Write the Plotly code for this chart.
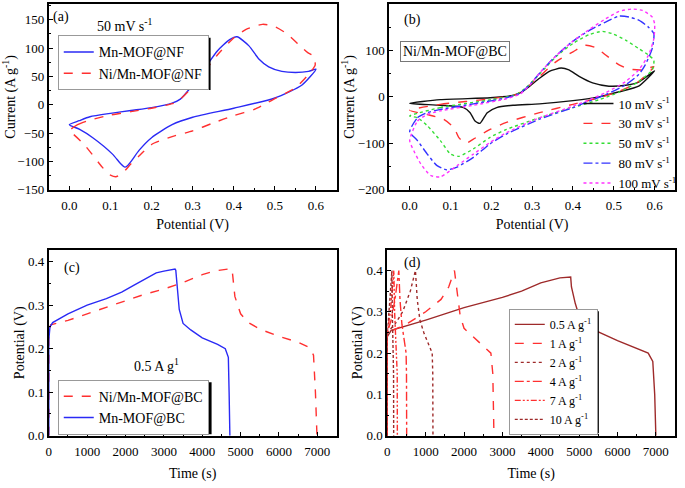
import plotly.graph_objects as go

# ---------------- Panel (a): CV at 50 mV/s ----------------
a_mn_v = [0.0, 0.024, 0.05, 0.1, 0.15, 0.2, 0.25, 0.27, 0.3, 0.33, 0.36, 0.39, 0.408, 0.437, 0.461, 0.485, 0.517, 0.55, 0.582, 0.6,
          0.566, 0.5, 0.4, 0.3, 0.25, 0.2, 0.17, 0.152, 0.142, 0.135, 0.125, 0.105, 0.057, 0.024, 0.0]
a_mn_i = [-35, -28, -21, -15, -10, -5, 3, 10, 35, 65, 95, 115, 120, 104, 81, 67, 59, 57, 59, 63,
          35, 12, -6, -22, -35, -58, -80, -98, -107, -110, -104, -87, -58, -43, -35]
a_ni_v = [0.0, 0.02, 0.05, 0.1, 0.15, 0.2, 0.25, 0.27, 0.3, 0.33, 0.36, 0.4, 0.43, 0.47, 0.5, 0.53, 0.56, 0.58, 0.594,
          0.598, 0.58, 0.55, 0.5, 0.48, 0.45, 0.4, 0.35, 0.3, 0.25, 0.2, 0.17, 0.15, 0.13, 0.113, 0.095, 0.08, 0.036, 0.01, 0.0]
a_ni_i = [-46, -35, -27, -18, -12, -6, 2, 10, 32, 60, 88, 118, 133, 142, 138, 125, 105, 92, 86,
          70, 52, 30, 11, 3, -8, -19, -32, -46, -56, -70, -90, -104, -120, -127, -122, -110, -70, -52, -46]

# ---------------- Panel (b): Ni/Mn-MOF@BC CV at various scan rates ----------------
b10_v = [0.0, 0.075, 0.197, 0.253, 0.274, 0.294, 0.318, 0.342, 0.371, 0.39, 0.415, 0.448, 0.488, 0.529, 0.561, 0.6,
         0.561, 0.513, 0.464, 0.4, 0.318, 0.253, 0.213, 0.19, 0.172, 0.16, 0.148, 0.132, 0.075, 0.0]
b10_i = [-14, -6, -2, 3, 10, 23, 40, 55, 62, 58, 44, 30, 23, 25, 32, 56,
         23, 11, 0, -8, -15, -18, -23, -34, -57, -52, -34, -23, -18, -14]
b30_v = [0.0, 0.075, 0.2, 0.26, 0.285, 0.318, 0.359, 0.4, 0.43, 0.456, 0.48, 0.513, 0.537, 0.57, 0.598,
         0.561, 0.513, 0.464, 0.4, 0.318, 0.237, 0.197, 0.156, 0.136, 0.12, 0.108, 0.083, 0.043, 0.0]
b30_i = [-29, -16, -4, 5, 19, 44, 76, 97, 111, 106, 90, 69, 60, 58, 65,
         33, 12, -2, -16, -34, -55, -70, -91, -100, -87, -66, -48, -38, -29]
b50_v = [0.0, 0.075, 0.2, 0.26, 0.285, 0.318, 0.359, 0.4, 0.44, 0.472, 0.496, 0.529, 0.561, 0.585, 0.598,
         0.594, 0.561, 0.513, 0.464, 0.4, 0.318, 0.237, 0.197, 0.156, 0.12, 0.1, 0.075, 0.043, 0.019, 0.0]
b50_i = [-41, -23, -6, 5, 20, 49, 87, 115, 134, 141, 136, 122, 104, 90, 79,
         58, 33, 10, -6, -23, -45, -70, -87, -112, -128, -123, -94, -62, -45, -41]
b80_v = [0.0, 0.019, 0.043, 0.075, 0.156, 0.237, 0.27, 0.294, 0.318, 0.359, 0.4, 0.44, 0.48, 0.513, 0.537, 0.561, 0.585, 0.598,
         0.594, 0.577, 0.561, 0.529, 0.48, 0.44, 0.4, 0.318, 0.237, 0.197, 0.156, 0.116, 0.091, 0.067, 0.043, 0.019, 0.0]
b80_i = [-75, -45, -34, -27, -15, -2, 8, 26, 51, 89, 120, 143, 161, 174, 172, 165, 150, 136,
         104, 69, 48, 26, 5, -9, -23, -48, -80, -101, -130, -151, -157, -148, -123, -94, -75]
b100_v = [0.0, 0.019, 0.043, 0.075, 0.156, 0.237, 0.27, 0.294, 0.318, 0.359, 0.4, 0.44, 0.48, 0.513, 0.545, 0.57, 0.594, 0.6,
          0.598, 0.585, 0.561, 0.529, 0.48, 0.44, 0.4, 0.318, 0.237, 0.197, 0.156, 0.116, 0.075, 0.051, 0.027, 0.01, 0.0]
b100_i = [-94, -52, -38, -30, -18, -4, 6, 25, 51, 89, 120, 145, 168, 184, 189, 186, 172, 157,
          125, 90, 58, 33, 9, -6, -20, -45, -77, -98, -123, -148, -172, -169, -144, -116, -94]

# ---------------- Panel (c): GCD at 0.5 A/g ----------------
c_ni_t = [0, 0, 50, 500, 1000, 1500, 2000, 2500, 3000, 3500, 4000, 4300, 4750, 4780, 4850, 5000, 5200, 5500, 6000, 6500, 6800, 6900, 6950, 6990]
c_ni_v = [0, 0.24, 0.255, 0.265, 0.28, 0.295, 0.31, 0.325, 0.337, 0.352, 0.37, 0.378, 0.384, 0.38, 0.32, 0.28, 0.26, 0.245, 0.228, 0.215, 0.202, 0.185, 0.1, 0.0]
c_mn_t = [0, 0, 30, 100, 500, 1000, 1500, 1900, 2200, 2500, 2800, 3000, 3290, 3310, 3350, 3400, 3500, 3700, 4000, 4400, 4600, 4680, 4700, 4720]
c_mn_v = [0, 0.22, 0.25, 0.26, 0.28, 0.30, 0.315, 0.33, 0.345, 0.36, 0.374, 0.378, 0.383, 0.38, 0.33, 0.29, 0.258, 0.243, 0.225, 0.21, 0.2, 0.18, 0.1, 0.0]

# ---------------- Panel (d): GCD of Ni/Mn-MOF@BC at various current densities ----------------
d05_t = [0, 0, 100, 1000, 2000, 3000, 3500, 4000, 4500, 4780, 4800, 4900, 5000, 5300, 6000, 6800, 6920, 6970, 7000]
d05_v = [0, 0.24, 0.255, 0.28, 0.31, 0.335, 0.35, 0.37, 0.382, 0.384, 0.36, 0.32, 0.29, 0.26, 0.23, 0.2, 0.18, 0.1, 0.0]
d1_t = [0, 0, 500, 1000, 1400, 1600, 1750, 1800, 1900, 2000, 2300, 2600, 2700, 2750, 2780]
d1_v = [0, 0.25, 0.27, 0.30, 0.33, 0.36, 0.40, 0.36, 0.29, 0.26, 0.235, 0.21, 0.2, 0.15, 0.0]
d2_t = [0, 0, 200, 400, 600, 733, 780, 850, 950, 1100, 1170, 1185, 1190]
d2_v = [0, 0.25, 0.27, 0.30, 0.35, 0.40, 0.33, 0.28, 0.25, 0.215, 0.2, 0.15, 0.0]
d4_t = [0, 0, 100, 200, 300, 330, 380, 450, 490, 500, 505]
d4_v = [0, 0.25, 0.28, 0.33, 0.40, 0.33, 0.27, 0.22, 0.2, 0.15, 0.0]
d7_t = [0, 0, 80, 170, 190, 230, 250, 258, 262]
d7_v = [0, 0.25, 0.30, 0.40, 0.30, 0.22, 0.2, 0.15, 0.0]
d10_t = [0, 0, 60, 120, 130, 150, 160, 163, 166]
d10_v = [0, 0.25, 0.32, 0.40, 0.30, 0.22, 0.2, 0.15, 0.0]

FONT = "Liberation Serif"
RED = "#FF3030"
BLUE = "#2A2AF5"
DARKRED = "#9E2A2A"

fig = go.Figure()

def add(x, y, name, color, dash, ax, legend, shape="spline", width=1.4):
    fig.add_trace(go.Scatter(x=x, y=y, mode="lines", name=name,
                             line=dict(color=color, dash=dash, width=width, shape=shape, smoothing=0.6),
                             xaxis="x" + ax, yaxis="y" + ax, legend=legend))

# (a)
add(a_mn_v, a_mn_i, "Mn-MOF@NF", BLUE, "solid", "", "legend")
add(a_ni_v, a_ni_i, "Ni/Mn-MOF@NF", RED, "dash", "", "legend")
# (b)
add(b10_v, b10_i, "10 mV s<sup>-1</sup>", "#111111", "solid", "2", "legend2")
add(b30_v, b30_i, "30 mV s<sup>-1</sup>", RED, "dash", "2", "legend2")
add(b50_v, b50_i, "50 mV s<sup>-1</sup>", "#33DD33", "dot", "2", "legend2")
add(b80_v, b80_i, "80 mV s<sup>-1</sup>", "#3333FF", "dashdot", "2", "legend2")
add(b100_v, b100_i, "100 mV s<sup>-1</sup>", "#FF33FF", "dot", "2", "legend2")
# (c)
add(c_ni_t, c_ni_v, "Ni/Mn-MOF@BC", RED, "dash", "3", "legend3", shape="linear")
add(c_mn_t, c_mn_v, "Mn-MOF@BC", BLUE, "solid", "3", "legend3", shape="linear")
# (d)
add(d05_t, d05_v, "0.5 A g<sup>-1</sup>", DARKRED, "solid", "4", "legend4", shape="linear")
add(d1_t, d1_v, "1 A g<sup>-1</sup>", RED, "dash", "4", "legend4", shape="linear")
add(d2_t, d2_v, "2 A g<sup>-1</sup>", DARKRED, "dot", "4", "legend4", shape="linear")
add(d4_t, d4_v, "4 A g<sup>-1</sup>", RED, "dashdot", "4", "legend4", shape="linear")
add(d7_t, d7_v, "7 A g<sup>-1</sup>", RED, "6px,2px,2px,2px,2px,2px", "4", "legend4", shape="linear")
add(d10_t, d10_v, "10 A g<sup>-1</sup>", DARKRED, "3px,2px", "4", "legend4", shape="linear")

W, H = 685, 488
def px_x(p):
    return p / W
def px_y(p):
    return 1 - p / H

def axis(domain, rng, dtick, minor, title, anchor, fmt=None, standoff=4, labelgap=0):
    d = dict(domain=domain, range=rng, dtick=dtick, tick0=0, showline=True, linecolor="black", linewidth=2,
             mirror=True, ticks="inside", ticklen=4, tickwidth=1, tickcolor="black",
             minor=dict(ticks="inside", ticklen=2, dtick=minor, tickcolor="black"),
             showgrid=False, zeroline=False, anchor=anchor, ticklabelstandoff=labelgap,
             tickfont=dict(family=FONT, size=13, color="black"),
             title=dict(text=title, font=dict(family=FONT, size=14, color="black"), standoff=standoff))
    if fmt:
        d["tickformat"] = fmt
    return d

xa = [px_x(46), px_x(335)]
xb = [px_x(388), px_x(675)]
xc = [px_x(46), px_x(335)]
xd = [px_x(386), px_x(675)]
ytop = [px_y(193), px_y(4)]
ybot = [px_y(443), px_y(254)]

leg_common = dict(font=dict(family=FONT, size=14, color="black"), bgcolor="white",
                  xref="paper", yref="paper", xanchor="left", yanchor="top", itemwidth=30,
                  tracegroupgap=0)

fig.update_layout(
    width=W, height=H, margin=dict(l=0, r=0, t=0, b=0),
    paper_bgcolor="white", plot_bgcolor="white",
    font=dict(family=FONT, color="black"),
    xaxis=axis(xa, [-0.05, 0.65], 0.1, 0.05, "Potential (V)", "y", ".1f", standoff=7, labelgap=3),
    yaxis=axis(ytop, [-150, 178], 50, 25, "Current (A g<sup>-1</sup>)", "x", standoff=0),
    xaxis2=axis(xb, [-0.05, 0.65], 0.1, 0.05, "Potential (V)", "y2", ".1f", standoff=7, labelgap=3),
    yaxis2=axis(ytop, [-200, 200], 100, 50, "Current (A g<sup>-1</sup>)", "x2", standoff=0),
    xaxis3=axis(xc, [0, 7500], 1000, 500, "Time (s)", "y3", standoff=10, labelgap=3),
    yaxis3=axis(ybot, [0, 0.427], 0.1, 0.05, "Potential (V)", "x3", ".1f", standoff=0),
    xaxis4=axis(xd, [0, 7500], 1000, 500, "Time (s)", "y4", standoff=10, labelgap=3),
    yaxis4=axis(ybot, [0, 0.45], 0.1, 0.05, "Potential (V)", "x4", ".1f", standoff=0),
    legend=dict(leg_common, x=px_x(55), y=px_y(36), bordercolor="#999999", borderwidth=1),
    legend2=dict(leg_common, x=px_x(578), y=px_y(90), bgcolor="rgba(0,0,0,0)", borderwidth=0,
                 font=dict(family=FONT, size=13, color="black")),
    legend3=dict(leg_common, x=px_x(55), y=px_y(386), bordercolor="#999999", borderwidth=1),
    legend4=dict(leg_common, x=px_x(508), y=px_y(314), bordercolor="#999999", borderwidth=1,
                 font=dict(family=FONT, size=12, color="black")),
    showlegend=True,
)

# drop shadows behind the boxed legends (legend boxes are drawn on top of these)
def shadow(x0, y0, x1, y1):
    fig.add_shape(type="rect", xref="paper", yref="paper",
                  x0=px_x(x0 + 2.5), x1=px_x(x1 + 2.5), y0=px_y(y1 + 2.5), y1=px_y(y0 + 2.5),
                  fillcolor="black", line=dict(width=0), layer="above")

shadow(55, 36, 206, 89)
shadow(55, 386, 207, 439)
shadow(508, 314, 596, 438)

def ann(text, x, y, ax, size=14, xanchor="left", **kw):
    fig.add_annotation(text=text, x=x, y=y, xref="x" + ax, yref="y" + ax, showarrow=False,
                       xanchor=xanchor, font=dict(family=FONT, size=size, color="black"), **kw)

ann("(a)", -0.045, 155, "")
ann("50 mV s<sup>-1</sup>", 0.134, 140, "", xanchor="center")
ann("(b)", -0.02, 166, "2")
ann("Ni/Mn-MOF@BC", 0.112, 98, "2", xanchor="center", bordercolor="#777777", borderwidth=1,
    borderpad=2, bgcolor="white")
ann("(c)", 350, 0.386, "3")
ann("0.5 A g<sup>1</sup>", 2820, 0.162, "3", xanchor="center")
ann("(d)", 390, 0.419, "4")

fig.write_html("out.html", config={"displayModeBar": False},
               post_script="document.body.style.margin='0';document.body.style.padding='0';")
